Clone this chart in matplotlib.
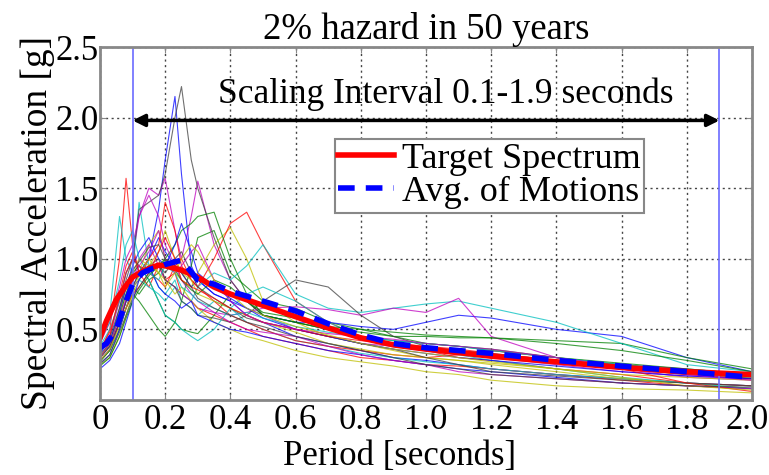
import matplotlib.pyplot as plt
import matplotlib.transforms as mtransforms
import numpy as np

plt.rcParams['font.family'] = ['Liberation Serif', 'DejaVu Serif']

periods = [0.0, 0.03, 0.06, 0.08, 0.1, 0.12, 0.15, 0.18, 0.2, 0.23, 0.25, 0.28, 0.3, 0.35,
           0.4, 0.45, 0.5, 0.6, 0.7, 0.8, 0.9, 1.0, 1.1, 1.2, 1.4, 1.6, 1.8, 2.0]

motions = [
    [0.30, 0.38, 0.55, 0.70, 0.80, 0.85, 1.00, 1.35, 1.70, 2.15, 1.60, 0.95, 0.85, 0.75, 0.70, 0.60, 0.55, 0.45, 0.40, 0.35, 0.30, 0.28, 0.25, 0.22, 0.18, 0.15, 0.12, 0.10],
    [0.28, 0.35, 0.50, 0.65, 0.75, 0.70, 0.60, 0.50, 0.45, 0.55, 0.70, 0.95, 1.15, 1.20, 0.90, 0.80, 0.70, 0.65, 0.55, 0.50, 0.45, 0.40, 0.38, 0.36, 0.30, 0.26, 0.22, 0.18],
    [0.33, 0.50, 1.00, 1.57, 1.10, 0.90, 0.80, 0.95, 0.85, 0.90, 0.75, 0.70, 0.65, 0.60, 0.55, 0.50, 0.45, 0.40, 0.35, 0.30, 0.28, 0.25, 0.24, 0.22, 0.18, 0.14, 0.10, 0.08],
    [0.40, 0.60, 1.30, 1.00, 0.90, 1.40, 0.95, 0.80, 0.75, 0.85, 0.70, 0.65, 0.60, 0.70, 0.65, 0.55, 0.50, 0.42, 0.38, 0.33, 0.30, 0.27, 0.25, 0.22, 0.18, 0.15, 0.12, 0.10],
    [0.35, 0.45, 0.70, 0.90, 1.00, 1.30, 1.50, 1.45, 1.57, 1.20, 1.00, 1.30, 1.55, 1.10, 0.85, 0.70, 0.60, 0.50, 0.45, 0.40, 0.38, 0.35, 0.33, 0.30, 0.25, 0.20, 0.17, 0.15],
    [0.30, 0.40, 0.60, 0.75, 0.85, 0.90, 1.10, 1.20, 1.00, 0.90, 0.85, 0.80, 0.90, 1.10, 1.22, 1.00, 0.70, 0.55, 0.45, 0.40, 0.35, 0.30, 0.28, 0.25, 0.20, 0.15, 0.12, 0.08],
    [0.32, 0.40, 0.65, 0.85, 1.00, 1.35, 1.40, 1.45, 1.60, 2.00, 2.22, 1.70, 1.50, 1.15, 0.85, 0.70, 0.60, 0.55, 0.50, 0.45, 0.40, 0.35, 0.33, 0.30, 0.26, 0.22, 0.18, 0.16],
    [0.25, 0.32, 0.50, 0.65, 0.80, 0.90, 1.00, 1.15, 1.05, 0.95, 0.90, 0.80, 0.85, 0.75, 0.70, 0.65, 0.60, 0.55, 0.55, 0.52, 0.50, 0.55, 0.60, 0.58, 0.50, 0.45, 0.30, 0.20],
    [0.27, 0.35, 0.55, 0.70, 0.80, 0.75, 0.85, 0.70, 0.60, 0.55, 0.50, 0.48, 0.47, 0.60, 0.75, 0.70, 0.60, 0.55, 0.50, 0.48, 0.45, 0.45, 0.44, 0.44, 0.42, 0.40, 0.30, 0.22],
    [0.30, 0.38, 0.55, 0.65, 0.75, 0.80, 0.90, 0.85, 0.80, 0.95, 1.00, 0.85, 0.80, 1.00, 1.25, 1.33, 1.10, 0.70, 0.55, 0.45, 0.40, 0.35, 0.30, 0.28, 0.22, 0.18, 0.12, 0.10],
    [0.30, 0.38, 0.60, 0.80, 0.90, 0.85, 0.80, 0.75, 0.70, 0.80, 0.75, 0.70, 0.80, 0.90, 0.85, 0.95, 1.10, 0.75, 0.65, 0.62, 0.65, 0.68, 0.70, 0.65, 0.55, 0.40, 0.25, 0.20],
    [0.28, 0.36, 0.55, 0.70, 0.85, 1.00, 1.10, 0.95, 0.85, 0.80, 0.75, 0.70, 0.65, 0.62, 0.60, 0.62, 0.65, 0.66, 0.64, 0.60, 0.65, 0.62, 0.72, 0.45, 0.30, 0.22, 0.16, 0.14],
    [0.25, 0.30, 0.45, 0.60, 0.75, 0.85, 0.95, 0.90, 0.85, 0.75, 0.80, 0.70, 0.65, 0.55, 0.50, 0.45, 0.42, 0.35, 0.30, 0.27, 0.24, 0.20, 0.18, 0.14, 0.10, 0.08, 0.07, 0.05],
    [0.30, 0.38, 0.55, 0.70, 0.80, 0.90, 0.95, 1.00, 0.85, 0.80, 0.70, 0.65, 0.60, 0.58, 0.55, 0.60, 0.70, 0.85, 0.80, 0.60, 0.45, 0.38, 0.35, 0.33, 0.28, 0.25, 0.22, 0.18],
    [0.22, 0.28, 0.40, 0.55, 0.70, 0.85, 0.95, 0.80, 0.75, 0.70, 0.65, 0.70, 0.60, 0.55, 0.50, 0.48, 0.45, 0.40, 0.35, 0.32, 0.28, 0.25, 0.22, 0.20, 0.16, 0.12, 0.10, 0.08],
    [0.30, 0.40, 0.60, 0.75, 0.90, 0.95, 0.85, 0.90, 1.00, 1.10, 1.20, 1.25, 1.30, 1.33, 1.00, 0.75, 0.60, 0.55, 0.50, 0.45, 0.42, 0.40, 0.38, 0.35, 0.30, 0.25, 0.20, 0.15],
    [0.35, 0.45, 0.75, 0.95, 1.05, 0.90, 1.00, 1.10, 1.40, 1.20, 0.95, 0.85, 0.80, 0.70, 0.60, 0.55, 0.50, 0.42, 0.38, 0.35, 0.32, 0.30, 0.32, 0.35, 0.30, 0.22, 0.18, 0.15],
    [0.38, 0.50, 0.70, 0.90, 1.00, 0.95, 0.85, 0.70, 0.60, 0.55, 0.50, 0.45, 0.42, 0.50, 0.65, 0.75, 0.80, 0.70, 0.55, 0.45, 0.40, 0.35, 0.32, 0.28, 0.22, 0.16, 0.12, 0.08],
    [0.40, 0.55, 0.80, 1.00, 1.10, 1.30, 1.45, 1.30, 1.10, 0.95, 0.85, 0.75, 0.70, 0.62, 0.55, 0.50, 0.48, 0.45, 0.38, 0.32, 0.28, 0.25, 0.20, 0.18, 0.15, 0.12, 0.10, 0.08],
    [0.30, 0.40, 0.60, 0.80, 0.90, 1.00, 0.95, 1.05, 1.20, 1.00, 0.90, 0.85, 0.75, 0.70, 0.65, 0.60, 0.55, 0.48, 0.40, 0.36, 0.32, 0.30, 0.28, 0.26, 0.22, 0.18, 0.16, 0.14],
    [0.26, 0.32, 0.48, 0.60, 0.72, 0.80, 0.90, 0.95, 0.90, 1.00, 1.05, 0.90, 0.80, 0.72, 0.65, 0.58, 0.55, 0.50, 0.45, 0.40, 0.36, 0.30, 0.25, 0.20, 0.17, 0.14, 0.12, 0.10],
    [0.33, 0.42, 0.62, 0.80, 0.95, 1.05, 1.15, 1.00, 0.95, 1.10, 1.25, 1.05, 0.90, 0.80, 0.72, 0.65, 0.58, 0.50, 0.45, 0.40, 0.36, 0.33, 0.30, 0.28, 0.24, 0.20, 0.17, 0.15],
    [0.24, 0.30, 0.45, 0.58, 0.70, 0.78, 0.88, 0.95, 1.00, 0.92, 0.85, 0.78, 0.75, 0.85, 0.80, 0.70, 0.62, 0.58, 0.52, 0.50, 0.48, 0.46, 0.45, 0.44, 0.40, 0.35, 0.28, 0.20],
    [0.36, 0.48, 0.72, 0.90, 1.00, 0.95, 0.90, 1.05, 1.15, 1.00, 0.85, 0.80, 0.78, 0.72, 0.65, 0.60, 0.55, 0.50, 0.45, 0.42, 0.40, 0.38, 0.36, 0.33, 0.28, 0.22, 0.12, 0.06],
    [0.42, 0.55, 0.85, 1.10, 1.20, 1.00, 0.90, 0.85, 0.95, 0.90, 0.80, 0.75, 0.70, 0.65, 0.60, 0.62, 0.58, 0.52, 0.48, 0.45, 0.42, 0.40, 0.38, 0.35, 0.30, 0.25, 0.20, 0.18],
    [0.30, 0.40, 0.58, 0.72, 0.85, 0.95, 1.05, 1.20, 1.00, 0.90, 0.95, 1.05, 1.10, 0.85, 0.70, 0.60, 0.55, 0.50, 0.47, 0.45, 0.43, 0.40, 0.38, 0.36, 0.30, 0.24, 0.18, 0.14],
    [0.28, 0.36, 0.52, 0.65, 0.78, 0.88, 1.00, 0.90, 0.80, 0.90, 1.00, 1.10, 1.05, 0.85, 0.75, 0.65, 0.60, 0.52, 0.46, 0.40, 0.36, 0.33, 0.30, 0.27, 0.22, 0.16, 0.10, 0.07],
    [0.34, 0.44, 0.65, 0.82, 0.92, 0.98, 1.08, 1.10, 1.00, 0.95, 0.90, 0.80, 0.72, 0.65, 0.60, 0.55, 0.52, 0.45, 0.40, 0.35, 0.30, 0.25, 0.22, 0.18, 0.15, 0.12, 0.10, 0.09],
]

# target spectrum and average of the scaled motions
spec_T = [0.0, 0.02, 0.05, 0.08, 0.1, 0.13, 0.16, 0.18, 0.2, 0.25, 0.3, 0.35, 0.4, 0.5,
          0.6, 0.7, 0.8, 0.9, 1.0, 1.2, 1.4, 1.6, 1.8, 2.0]
target = [0.44, 0.56, 0.71, 0.81, 0.87, 0.91, 0.94, 0.955, 0.95, 0.92, 0.87, 0.80, 0.75, 0.67,
          0.59, 0.51, 0.44, 0.39, 0.36, 0.31, 0.27, 0.23, 0.20, 0.18]
average = [0.37, 0.40, 0.50, 0.70, 0.82, 0.90, 0.93, 0.94, 0.96, 0.99, 0.85, 0.82, 0.77, 0.70,
           0.63, 0.54, 0.46, 0.40, 0.37, 0.33, 0.28, 0.24, 0.20, 0.16]

t_lo, t_hi = 0.1, 1.9

matlab_colors = ['#0000ff', '#008000', '#ff0000', '#00bfbf', '#bf00bf', '#bfbf00', '#404040']

fig = plt.figure(figsize=(7.69, 4.75), dpi=100)
ax = fig.add_axes([0.130, 0.158, 0.848, 0.743])

for i, sa in enumerate(motions):
    ax.plot(periods, sa, color=matlab_colors[i % 7], lw=0.8, alpha=0.75)

ax.axvline(t_lo, color='#6b6bff', lw=1.2)
ax.axvline(t_hi, color='#6b6bff', lw=1.2)

l1, = ax.plot(spec_T, target, color='red', lw=4, label='Target Spectrum')
l2, = ax.plot(spec_T, average, color='blue', lw=4, ls=(0, (3, 2)), label='Avg. of Motions')

ax.annotate('', xy=(t_lo, 1.98), xytext=(t_hi, 1.98),
            arrowprops=dict(arrowstyle='<|-|>', color='black', lw=2.5,
                            mutation_scale=18, shrinkA=0, shrinkB=0))
ax.text(1.06, 2.05, 'Scaling Interval 0.1-1.9 seconds', ha='center', va='bottom', fontsize=25.5)

ax.set_xlim(0, 2.0)
ax.set_ylim(0, 2.5)
ax.set_xticks(np.arange(0, 2.01, 0.2))
ax.set_xticklabels(['0'] + ['%.1f' % v for v in np.arange(0.2, 2.01, 0.2)])
ax.set_yticks([0.5, 1.0, 1.5, 2.0, 2.5])
ax.set_yticklabels(['0.5', '1.0', '1.5', '2.0', '2.5'])
ax.tick_params(labelsize=25, direction='in', length=4, color='#888888', top=True, right=True)
ax.tick_params(axis='y', pad=1)
ax.tick_params(axis='x', pad=3)
ax.grid(True, ls=(0, (1.5, 2.5)), color='#444444', lw=1)

# the last x label sits a bit to the left, against the figure edge
last = ax.get_xticklabels()[-1]
last.set_transform(last.get_transform() + mtransforms.ScaledTranslation(-5 / 100, 0, fig.dpi_scale_trans))

for sp in ax.spines.values():
    sp.set_color('#888888')
    sp.set_linewidth(2)

ax.set_xlabel('Period [seconds]', fontsize=25)
ax.xaxis.set_label_coords(0.46, -0.113, transform=ax.transAxes)
ax.xaxis.label.set_va('top')
ax.set_ylabel('Spectral Acceleration [g]', fontsize=27, labelpad=0)
ax.set_title('2% hazard in 50 years', fontsize=26.5, pad=6)

leg = ax.legend(handles=[l1, l2], loc='upper left', bbox_to_anchor=(0.36, 0.74), fontsize=26,
                fancybox=False, framealpha=1, edgecolor='#888888', handlelength=1.55,
                borderpad=0.1, labelspacing=0.0, handletextpad=0.2, borderaxespad=0)
leg.get_frame().set_linewidth(1.5)

fig.savefig('out.png', dpi=100)
